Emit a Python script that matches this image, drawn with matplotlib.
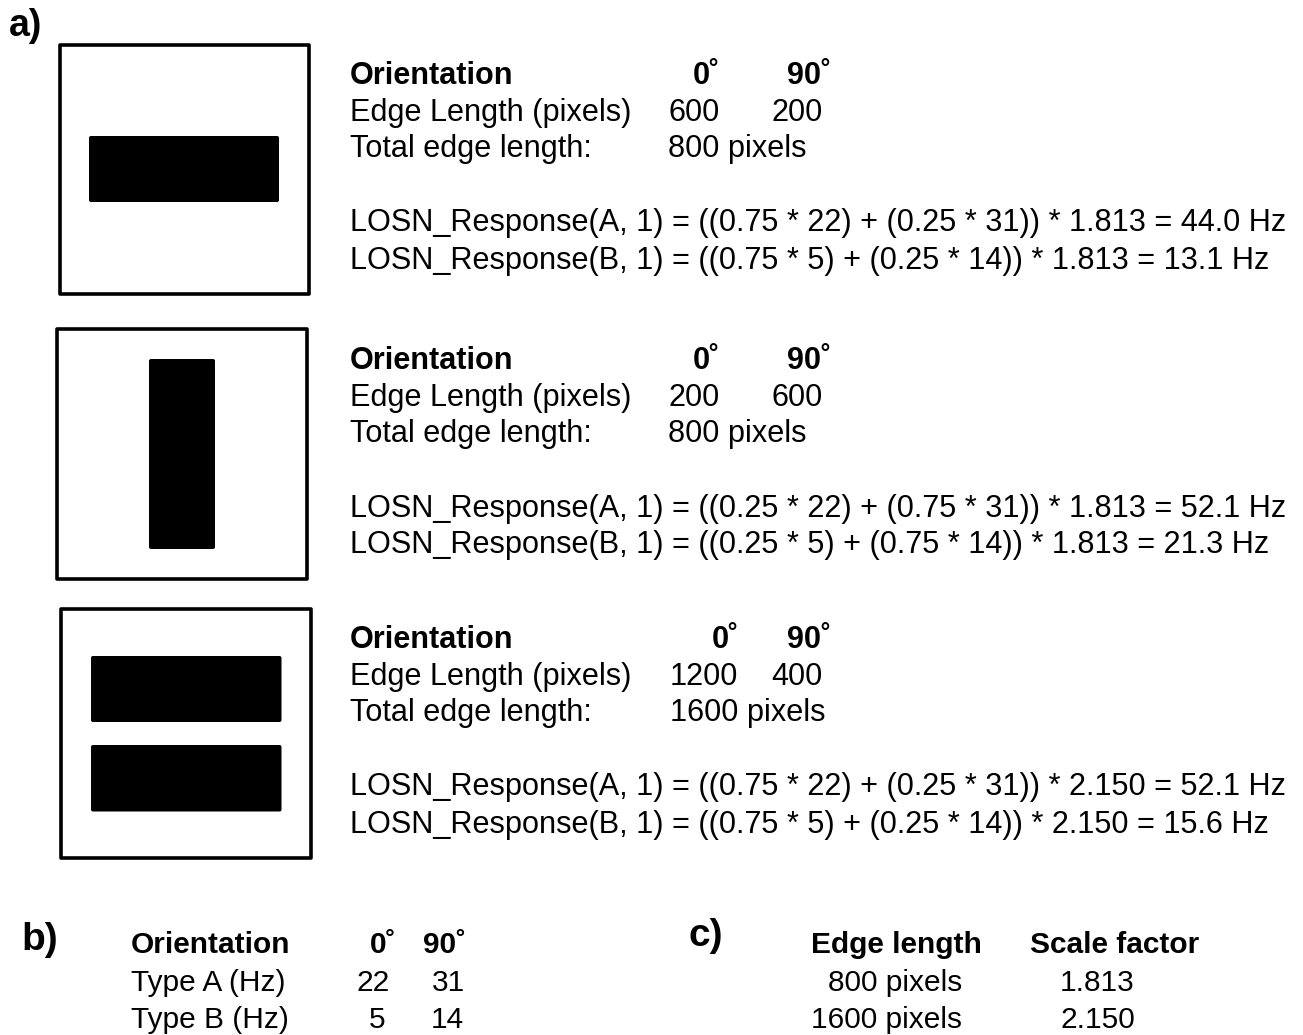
import matplotlib
matplotlib.use("Agg")
import matplotlib.pyplot as plt
from matplotlib.patches import Rectangle, FancyBboxPatch
from matplotlib import font_manager

# ---- data -------------------------------------------------------------
orientations = ["0˚", "90˚"]
type_a_hz = [22, 31]
type_b_hz = [5, 14]

# edge lengths (pixels) at 0° and 90° for the three stimuli
edge_lengths = [[600, 200], [200, 600], [1200, 400]]

scale_edge = [800, 1600]
scale_factor = [1.813, 2.150]

# ---- fonts ------------------------------------------------------------
available = {f.name for f in font_manager.fontManager.ttflist}
SANS = "Liberation Sans"
NARROW = "Liberation Sans Narrow" if "Liberation Sans Narrow" in available else SANS
narrow_size = 26 if NARROW != SANS else 21.5

W, H = 1303, 1035
fig = plt.figure(figsize=(W / 100, H / 100), dpi=100)
ax = fig.add_axes([0, 0, 1, 1])
ax.set_xlim(0, W)
ax.set_ylim(H, 0)
ax.axis("off")


def txt(x, y, s, size=22.1, bold=False, family=SANS, va="baseline"):
    ax.text(x, y, s, fontsize=size, fontweight="bold" if bold else "normal",
            family=family, va=va, ha="left", color="black")


# ---- stimulus boxes ---------------------------------------------------
def frame(x0, y0, x1, y1):
    ax.add_patch(Rectangle((x0, y0), x1 - x0, y1 - y0, fill=False,
                           lw=2.6, ec="black", joinstyle="round"))


def bar(x0, y0, x1, y1):
    ax.add_patch(FancyBboxPatch((x0 + 2, y0 + 2), x1 - x0 - 4, y1 - y0 - 4,
                                boxstyle="round,pad=2", fc="black", ec="none"))


frame(60, 44.5, 309, 293.5)
bar(89, 136, 279, 202)

frame(57, 329, 307, 578.5)
bar(149, 359, 215, 549)

frame(61, 608.5, 311, 858)
bar(91, 656, 281.5, 722)
bar(91, 745, 281.5, 811.5)

# ---- panel a text -----------------------------------------------------
txt(9, 36, "a)", size=27, bold=True)

block_offsets = [0, 285, 564]
val_x = [[668, 771.5], [668.5, 771.5], [670, 771.5]]
hdr_x = [[692.5, 786.5], [692.5, 786.5], [711.5, 786.5]]

for i, off in enumerate(block_offsets):
    e0, e90 = edge_lengths[i]
    total = e0 + e90
    w0 = e0 / total
    w90 = e90 / total
    sf = scale_factor[scale_edge.index(total)]

    txt(350, 84 + off, "Orientation", bold=True)
    txt(hdr_x[i][0], 84 + off, orientations[0], bold=True)
    txt(hdr_x[i][1], 84 + off, orientations[1], bold=True)

    txt(350, 121 + off, "Edge Length (pixels)")
    txt(val_x[i][0], 121 + off, f"{e0}")
    txt(val_x[i][1], 121 + off, f"{e90}")

    txt(350, 157 + off, "Total edge length:")
    txt(val_x[i][0], 157 + off, f"{total} pixels")

    for j, (name, rates) in enumerate([("A", type_a_hz), ("B", type_b_hz)]):
        resp = (w0 * rates[0] + w90 * rates[1]) * sf
        line = (f"LOSN_Response({name}, 1) = (({w0:.2f} * {rates[0]}) + "
                f"({w90:.2f} * {rates[1]})) * {sf:.3f} = {resp:.1f} Hz")
        txt(350, 231.5 + 37 * j + off, line)

# ---- panel b ----------------------------------------------------------
txt(21, 950, "b)", size=28, bold=True, family=NARROW)
txt(131, 953, "Orientation", size=narrow_size, bold=True, family=NARROW)
txt(370, 953, orientations[0], size=narrow_size, bold=True, family=NARROW)
txt(423, 953, orientations[1], size=narrow_size, bold=True, family=NARROW)

txt(131, 991, "Type A (Hz)", size=narrow_size, family=NARROW)
txt(357, 991, f"{type_a_hz[0]}", size=narrow_size, family=NARROW)
txt(432, 991, f"{type_a_hz[1]}", size=narrow_size, family=NARROW)

txt(131, 1028, "Type B (Hz)", size=narrow_size, family=NARROW)
txt(369, 1028, f"{type_b_hz[0]}", size=narrow_size, family=NARROW)
txt(431, 1028, f"{type_b_hz[1]}", size=narrow_size, family=NARROW)

# ---- panel c ----------------------------------------------------------
txt(689, 946, "c)", size=28, bold=True, family=NARROW)
txt(811, 953, "Edge length", size=narrow_size, bold=True, family=NARROW)
txt(1030, 953, "Scale factor", size=narrow_size, bold=True, family=NARROW)

txt(828, 991, f"{scale_edge[0]} pixels", size=narrow_size, family=NARROW)
txt(1060, 991, f"{scale_factor[0]:.3f}", size=narrow_size, family=NARROW)
txt(811, 1028, f"{scale_edge[1]} pixels", size=narrow_size, family=NARROW)
txt(1060, 1028, f"{scale_factor[1]:.3f}", size=narrow_size, family=NARROW)

fig.savefig("out.png", dpi=100, facecolor="white")
